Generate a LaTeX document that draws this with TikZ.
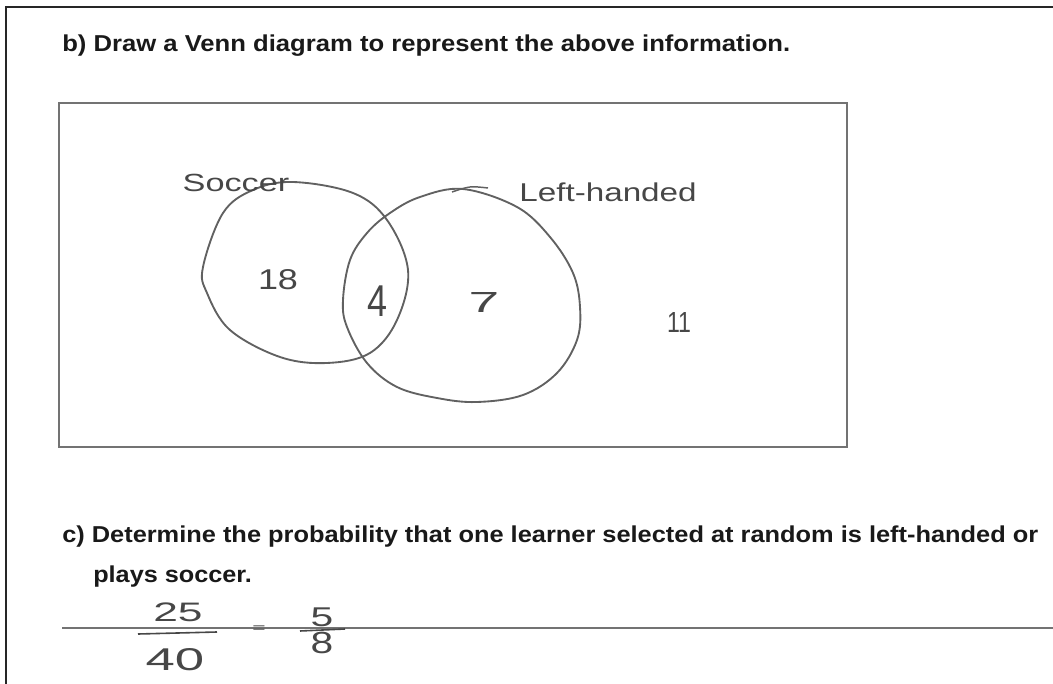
\documentclass[tikz,border=0pt]{standalone}
\usepackage{fontspec}
\setmainfont{Liberation Sans}
\usepackage{graphicx}

\tikzset{
  print/.style={anchor=base west, inner sep=0pt, text=black!90, font=\bfseries},
  hand/.style={inner sep=0pt, text=black!72},
  pen/.style={draw=black!62, line width=1.4pt},
}
% handwritten text squeezed to the size it has on the sheet
\newcommand{\handtext}[3]{\resizebox{#1pt}{#2pt}{#3}}

\begin{document}
\begin{tikzpicture}[x=0.75pt,y=-0.75pt]
  \useasboundingbox (0,0) rectangle (1053,684);

  % page frame and the box of the diagram
  \draw[black!85, line width=1.3pt] (6,684) -- (6,7) -- (1053,7);
  \draw[black!55, line width=1.2pt] (59,103) rectangle (847,447);

  % printed questions
  \node[print] (partb) at (62,52)
    {\resizebox{546pt}{12.5pt}{b) Draw a Venn diagram to represent the above information.}};
  \node[print] (partc) at (62,542)
    {\resizebox{732pt}{12.5pt}{c) Determine the probability that one learner selected at random is left-handed or}};
  \node[print] (partc2) at (93,582)
    {\resizebox{119pt}{12.5pt}{plays soccer.}};

  % the two sets
  \draw[pen] plot[smooth cycle, tension=0.6] coordinates {
    (293,182) (353,193) (387,220) (408,270) (397,320) (370,353) (327,363)
    (280,357) (230,330) (207,293) (203,267) (223,213) (253,190)};
  \draw[pen] plot[smooth cycle, tension=0.6] coordinates {
    (463,189) (517,207) (550,237) (573,273) (580,307) (577,340) (557,373)
    (523,395) (477,402) (437,398) (397,387) (367,363) (347,327) (343,300)
    (350,260) (367,233) (390,213) (420,197)};
  \draw[pen, line width=1.1pt] (452,192) .. controls (470,186) .. (488,188);

  \node[hand] (soccer) at (236,183) {\handtext{80}{13}{Soccer}};
  \node[hand] (lefthand) at (608,192) {\handtext{133}{14}{Left-handed}};

  % counts
  \node[hand] (only) at (278,280) {\handtext{30}{15}{18}};
  \node[hand] (both) at (377,301) {\handtext{15}{23}{4}};
  \node[hand] (lonly) at (484,303) {\handtext{23}{15}{7}};
  \node[hand] (none) at (679,323) {\handtext{18}{15}{11}};

  % answer line
  \draw[black!55, line width=1.2pt] (62,628) -- (1053,628);
  \node[hand] (num) at (178,612) {\handtext{37}{14}{25}};
  \draw[black!72, line width=1.2pt] (138,634) -- (217,632);
  \node[hand] (den) at (175,660) {\handtext{44}{16.5}{40}};
  \node[hand] (eq) at (259,629) {\handtext{10}{5}{=}};
  \node[hand] (num2) at (322,617) {\handtext{17}{14}{5}};
  \draw[black!72, line width=1.2pt] (300,631) -- (345,629);
  \node[hand] (den2) at (322,643) {\handtext{17}{16}{8}};
\end{tikzpicture}
\end{document}
